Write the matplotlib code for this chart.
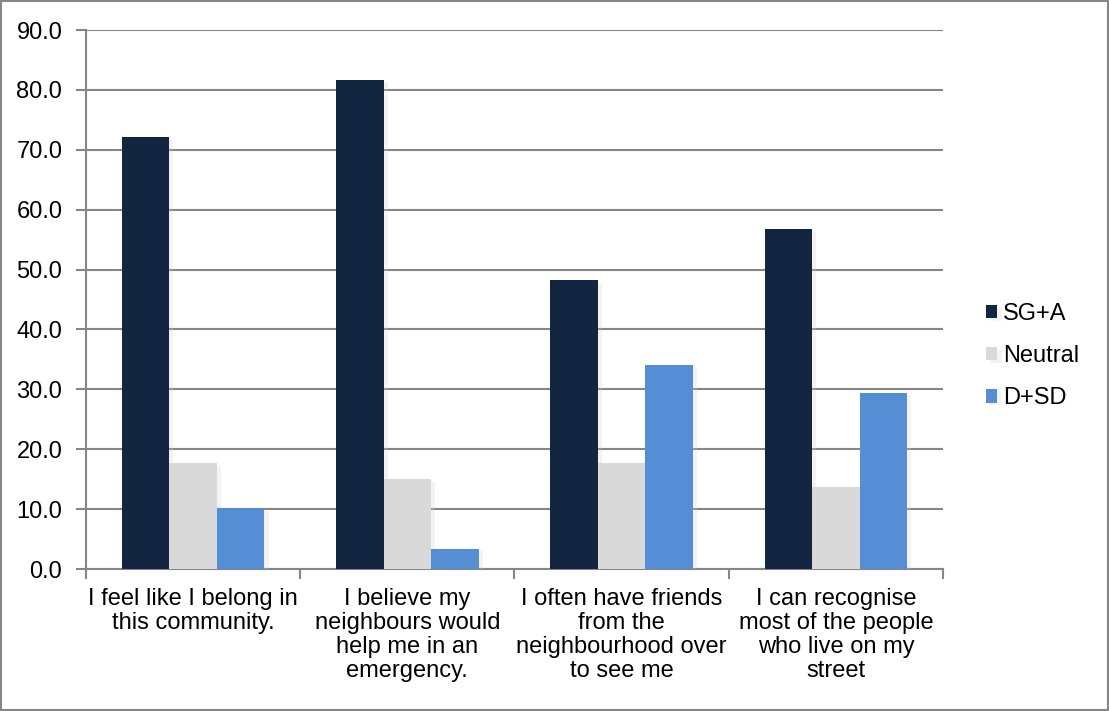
import numpy as np
import matplotlib
matplotlib.use('Agg')
import matplotlib.pyplot as plt
import matplotlib.patheffects as pe

categories = ["I feel like I belong in\nthis community.",
              "I believe my\nneighbours would\nhelp me in an\nemergency.",
              "I often have friends\nfrom the\nneighbourhood over\nto see me",
              "I can recognise\nmost of the people\nwho live on my\nstreet"]
series_names = ["SG+A", "Neutral", "D+SD"]
sg_a = [72.1, 81.6, 48.2, 56.8]
neutral = [17.7, 15.0, 17.7, 13.7]
d_sd = [10.2, 3.4, 34.0, 29.4]
colors = ["#132641", "#d9d9d9", "#558ed5"]

plt.rcParams['font.family'] = ['Liberation Sans', 'DejaVu Sans']

fig = plt.figure(figsize=(11.09, 7.11), dpi=100)
ax = fig.add_axes([0.0775, 0.1997, 0.7728, 0.7581])

x = np.arange(len(categories))
w = 0.222
shadow = [pe.SimplePatchShadow(offset=(3, -2), shadow_rgbFace='#d0d0d0', alpha=0.25), pe.Normal()]
for i, (name, vals) in enumerate(zip(series_names, [sg_a, neutral, d_sd])):
    ax.bar(x + (i - 1) * w, vals, width=w, color=colors[i], label=name,
           zorder=3, path_effects=shadow)

ax.set_xlim(-0.5, 3.5)
ax.set_ylim(0, 90)
ax.set_yticks(np.arange(0, 91, 10))
ax.set_yticklabels([f"{v:.1f}" for v in np.arange(0, 91, 10)])
ax.yaxis.grid(True, color='#868686', linewidth=1.5, zorder=0)
ax.set_axisbelow(True)

ax.set_xticks(x)
ax.set_xticklabels(categories, fontsize=17, linespacing=1.1)
ax.tick_params(axis='x', length=0, pad=14)
ax.set_xticks(np.arange(-0.5, 4.0, 1.0), minor=True)
ax.tick_params(axis='x', which='minor', length=7, width=1.5, color='#868686')
ax.tick_params(axis='y', labelsize=17, length=7, width=1.5, color='#868686', pad=10)

for s in ['top', 'right']:
    ax.spines[s].set_visible(False)
for s in ['left', 'bottom']:
    ax.spines[s].set_color('#868686')
    ax.spines[s].set_linewidth(1.5)

leg = ax.legend(loc='center left', bbox_to_anchor=(1.025, 0.395), frameon=False,
                fontsize=17, handlelength=0.5, handleheight=0.5,
                handletextpad=0.25, labelspacing=0.85)

fig.patches.append(plt.Rectangle((0.001, 0.001), 0.998, 0.997, transform=fig.transFigure,
                                 fill=False, edgecolor='#868686', linewidth=1.5))

fig.savefig('out.png', dpi=100)
